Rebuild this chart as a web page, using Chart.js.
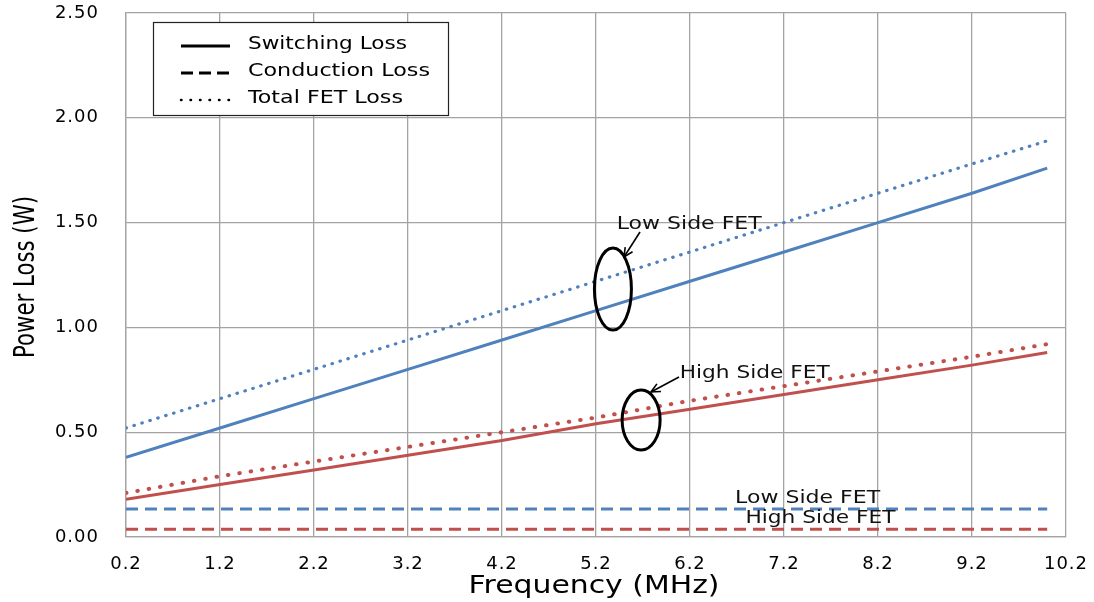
<!DOCTYPE html>
<html><head><meta charset="utf-8">
<script src="https://cdn.jsdelivr.net/npm/chart.js@4/dist/chart.umd.min.js"></script>
<style>html,body{margin:0;padding:0;background:#fff;overflow:hidden}#wrap{width:1094px;height:602px}</style>
</head><body><div id="wrap"><canvas id="c" width="1094" height="602"></canvas></div>
<script>
// ---- data ----
const frequencies   = [0.2, 1.2, 2.2, 3.2, 4.2, 5.2, 6.2, 7.2, 8.2, 9.2, 10.0];
const lowSwitching  = [0.38, 0.52, 0.66, 0.80, 0.94, 1.08, 1.22, 1.36, 1.50, 1.64, 1.76];
const lowConduction = [0.134, 0.134, 0.134, 0.134, 0.134, 0.134, 0.134, 0.134, 0.134, 0.134, 0.134];
const lowTotal      = [0.52, 0.66, 0.80, 0.94, 1.08, 1.22, 1.36, 1.50, 1.64, 1.78, 1.89];
const highSwitching = [0.18, 0.25, 0.32, 0.39, 0.46, 0.54, 0.61, 0.68, 0.75, 0.82, 0.88];
const highConduction= [0.037, 0.037, 0.037, 0.037, 0.037, 0.037, 0.037, 0.037, 0.037, 0.037, 0.037];
const highTotal     = [0.21, 0.29, 0.36, 0.43, 0.50, 0.57, 0.65, 0.72, 0.79, 0.86, 0.92];
const xTickValues   = [0.2, 1.2, 2.2, 3.2, 4.2, 5.2, 6.2, 7.2, 8.2, 9.2, 10.2];
const yTickValues   = [0, 0.5, 1.0, 1.5, 2.0, 2.5];
const legendLabels  = ['Switching Loss', 'Conduction Loss', 'Total FET Loss'];
const xTitle = 'Frequency (MHz)';
const yTitle = 'Power Loss (W)';
const noteLow  = 'Low Side FET';
const noteHigh = 'High Side FET';

const BLUE = '#4f81bd', RED = '#c0504d', GRID = '#a3a3a3';
const pts = arr => frequencies.map((f, i) => ({x: f, y: arr[i]}));

const SOLID = [], DASH = [12, 7], DOT_B = [0.5, 7.8], DOT_R = [0.5, 11];

// annotation layout (data coordinates for anchors, px for shapes)
const notes = [
  {text: noteLow,  x: 5.42, y: 1.489, w: 145},
  {text: noteHigh, x: 6.09, y: 0.782, w: 150},
  {text: noteLow,  x: 6.68, y: 0.181, w: 145},
  {text: noteHigh, x: 6.79, y: 0.086, w: 150}
];
const ellipses = [
  {x: 5.38, y: 1.183, rx: 18.5, ry: 41},
  {x: 5.68, y: 0.558, rx: 19, ry: 30}
];
const arrows = [
  {x1: 5.668, y1: 1.455, x2: 5.498, y2: 1.336},
  {x1: 6.083, y1: 0.763, x2: 5.785, y2: 0.692}
];

// draw text stretched horizontally to a target width (reference text is stretched)
function stretchText(ctx, text, x, y, targetW, align) {
  const w = ctx.measureText(text).width;
  const s = targetW / w;
  ctx.save();
  ctx.translate(x, y);
  ctx.scale(s, 1);
  ctx.textAlign = align;
  ctx.fillText(text, 0, 0);
  ctx.restore();
}

const overlay = {
  id: 'overlay',
  beforeDraw(chart) { chart.ctx.letterSpacing = '1px'; },
  afterDraw(chart) {
    const ctx = chart.ctx, xs = chart.scales.x, ys = chart.scales.y, ca = chart.chartArea;
    const px = v => xs.getPixelForValue(v), py = v => ys.getPixelForValue(v);
    ctx.save();
    ctx.letterSpacing = '0px';
    ctx.fillStyle = '#000';
    ctx.textBaseline = 'middle';
    // axis titles
    ctx.font = '25px "DejaVu Sans"';
    stretchText(ctx, xTitle, (ca.left + ca.right) / 2 - 2, 586, 251, 'center');
    ctx.save();
    ctx.translate(26, (ca.top + ca.bottom) / 2 + 2);
    ctx.rotate(-Math.PI / 2);
    ctx.font = '29px "Liberation Sans Narrow", "DejaVu Sans Condensed", sans-serif';
    stretchText(ctx, yTitle, 0, 0, 162, 'center');
    ctx.restore();

    // legend
    const lx = 153, ly = 22, lw = 295, lh = 93;
    ctx.fillStyle = '#fff';
    ctx.fillRect(lx, ly, lw, lh);
    ctx.strokeStyle = '#222'; ctx.lineWidth = 1.2;
    ctx.strokeRect(lx + 0.5, ly + 0.5, lw, lh);
    const rows = [44, 71, 98];
    const widths = [159, 182, 155];
    const styles = [
      {dash: SOLID, w: 3, cap: 'butt'},
      {dash: [12, 6], w: 3, cap: 'butt'},
      {dash: [0.5, 9], w: 2.5, cap: 'round'}
    ];
    legendLabels.forEach((lab, i) => {
      ctx.save();
      ctx.strokeStyle = '#000'; ctx.lineWidth = styles[i].w; ctx.lineCap = styles[i].cap;
      ctx.setLineDash(styles[i].dash);
      ctx.beginPath(); ctx.moveTo(181, rows[i] + 2); ctx.lineTo(230, rows[i] + 2); ctx.stroke();
      ctx.restore();
      ctx.fillStyle = '#000';
      ctx.font = '18px "DejaVu Sans"';
      stretchText(ctx, lab, 248, rows[i], widths[i], 'left');
    });

    // annotations
    ctx.fillStyle = '#111';
    ctx.font = '17px "DejaVu Sans"';
    notes.forEach(n => stretchText(ctx, n.text, px(n.x), py(n.y), n.w, 'left'));
    ctx.strokeStyle = '#000'; ctx.lineWidth = 3; ctx.setLineDash([]);
    ellipses.forEach(e => {
      ctx.beginPath(); ctx.ellipse(px(e.x), py(e.y), e.rx, e.ry, 0, 0, Math.PI * 2); ctx.stroke();
    });
    ctx.lineWidth = 1.6;
    arrows.forEach(a => {
      const x1 = px(a.x1), y1 = py(a.y1), x2 = px(a.x2), y2 = py(a.y2);
      const ang = Math.atan2(y2 - y1, x2 - x1), L = 10, sp = 0.45;
      ctx.beginPath(); ctx.moveTo(x1, y1); ctx.lineTo(x2, y2); ctx.stroke();
      ctx.beginPath();
      ctx.moveTo(x2 - L * Math.cos(ang - sp), y2 - L * Math.sin(ang - sp));
      ctx.lineTo(x2, y2);
      ctx.lineTo(x2 - L * Math.cos(ang + sp), y2 - L * Math.sin(ang + sp));
      ctx.stroke();
    });
    ctx.restore();
  }
};

const ds = (data, color, dash, w, cap) => ({
  data: pts(data), borderColor: color, backgroundColor: color, borderWidth: w,
  borderDash: dash, borderCapStyle: cap, pointRadius: 0, tension: 0, fill: false
});

new Chart(document.getElementById('c'), {
  type: 'line',
  data: {
    datasets: [
      ds(lowConduction, BLUE, DASH, 3, 'butt'),
      ds(highConduction, RED, DASH, 3, 'butt'),
      ds(lowSwitching, BLUE, SOLID, 3, 'butt'),
      ds(highSwitching, RED, SOLID, 3, 'butt'),
      ds(lowTotal, BLUE, DOT_B, 3.2, 'round'),
      ds(highTotal, RED, DOT_R, 4, 'round')
    ]
  },
  options: {
    responsive: false, animation: false, devicePixelRatio: 1,
    layout: {padding: {top: 13, right: 28, left: 0, bottom: 0}},
    plugins: {legend: {display: false}, tooltip: {enabled: false}},
    scales: {
      x: {
        type: 'linear', min: 0.2, max: 10.2,
        afterBuildTicks: s => { s.ticks = xTickValues.map(v => ({value: v})); },
        afterFit: s => { s.height = 65; s.paddingLeft = 0; s.paddingRight = 0; },
        grid: {color: GRID, lineWidth: 1.3, drawTicks: false},
        border: {color: GRID, width: 1.3},
        ticks: {padding: 17, color: '#000', font: {family: 'DejaVu Sans', size: 18},
                callback: v => Number(v).toFixed(1), maxRotation: 0, autoSkip: false}
      },
      y: {
        min: 0, max: 2.5,
        afterBuildTicks: s => { s.ticks = yTickValues.map(v => ({value: v})); },
        afterFit: s => { s.width = 126; s.paddingTop = 0; s.paddingBottom = 0; },
        grid: {color: GRID, lineWidth: 1.3, drawTicks: false},
        border: {color: GRID, width: 1.3},
        ticks: {padding: 27, color: '#000', font: {family: 'DejaVu Sans', size: 18},
                callback: v => Number(v).toFixed(2), autoSkip: false}
      }
    }
  },
  plugins: [overlay]
});
</script>
</body></html>
